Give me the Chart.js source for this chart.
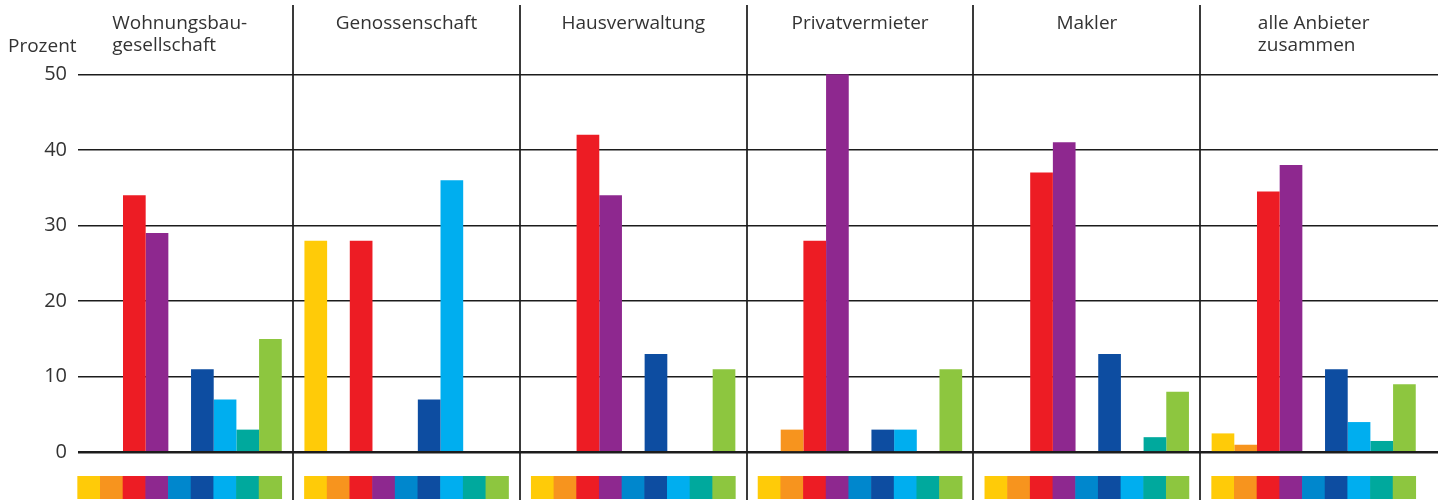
<!DOCTYPE html>
<html>
<head>
<meta charset="utf-8">
<script src="https://cdn.jsdelivr.net/npm/chart.js@4"></script>
<style>
  html, body { margin: 0; padding: 0; background: #ffffff; }
  #wrap { width: 1449px; height: 503px; position: relative; }
</style>
</head>
<body>
<div id="wrap"><canvas id="c"></canvas></div>
<script>
// ---------------- data ----------------
const categories = [
  ['Wohnungsbau-', 'gesellschaft'],
  ['Genossenschaft'],
  ['Hausverwaltung'],
  ['Privatvermieter'],
  ['Makler'],
  ['alle Anbieter', 'zusammen']
];
const yTitle = 'Prozent';
const yTicks = [0, 10, 20, 30, 40, 50];

const seriesNames  = ['Serie 1', 'Serie 2', 'Serie 3', 'Serie 4', 'Serie 5', 'Serie 6', 'Serie 7', 'Serie 8', 'Serie 9'];
const seriesColors = ['#FFCB08', '#F7941E', '#ED1C24', '#8E288F', '#0087CD', '#0D4DA1', '#00AEEF', '#00A99D', '#8DC63F'];

const series1 = [0, 28, 0, 0, 0, 2.5];    // gelb
const series2 = [0, 0, 0, 3, 0, 1];       // orange
const series3 = [34, 28, 42, 28, 37, 34.5]; // rot
const series4 = [29, 0, 34, 50, 41, 38];  // violett
const series5 = [0, 0, 0, 0, 0, 0];       // blau
const series6 = [11, 7, 13, 3, 13, 11];   // dunkelblau
const series7 = [7, 36, 0, 3, 0, 4];      // cyan
const series8 = [3, 0, 0, 0, 2, 1.5];     // petrol
const series9 = [15, 0, 11, 11, 8, 9];    // grün
const allSeries = [series1, series2, series3, series4, series5, series6, series7, series8, series9];

// ---------------- chart ----------------
const FONT = "'Open Sans', 'Noto Sans', sans-serif";
const TEXT = '#333333';

const datasets = allSeries.map((vals, s) => ({
  label: seriesNames[s],
  data: vals.map((v, i) => ({ x: i, y: v })),
  backgroundColor: seriesColors[s],
  borderWidth: 0,
  categoryPercentage: 0.9,
  barPercentage: 1.0
}));

// Labels, title and colour key under each group
const decorPlugin = {
  id: 'decor',
  afterDraw(chart) {
    const ctx = chart.ctx;
    const xs = chart.scales.x;
    const ys = chart.scales.y;
    ctx.save();
    // colour key under each group, taken from the bars' own positions
    const zero = ys.getPixelForValue(0);
    chart.data.datasets.forEach((ds, d) => {
      const meta = chart.getDatasetMeta(d);
      meta.data.forEach(el => {
        const p = el.getProps(['x', 'width'], true);
        ctx.fillStyle = ds.backgroundColor;
        ctx.fillRect(p.x - p.width / 2 - 0.3, zero + 23.7, p.width + 0.6, 23);
      });
    });
    // group titles
    ctx.fillStyle = TEXT;
    ctx.font = "19px " + FONT;
    ctx.textAlign = 'left';
    ctx.textBaseline = 'alphabetic';
    categories.forEach((lines, i) => {
      const cx = xs.getPixelForValue(i);
      const w = Math.max(...lines.map(l => ctx.measureText(l).width));
      lines.forEach((l, k) => ctx.fillText(l, cx - w / 2, 29 + k * 22));
    });
    // axis title
    ctx.fillText(yTitle, 8, 52);
    ctx.restore();
  }
};

new Chart(document.getElementById('c'), {
  type: 'bar',
  data: { datasets },
  options: {
    responsive: true,
    maintainAspectRatio: false,
    animation: false,
    events: [],
    layout: { autoPadding: false, padding: { top: 5, bottom: 3, left: 0, right: 11 } },
    plugins: { legend: { display: false }, tooltip: { enabled: false }, title: { display: false } },
    scales: {
      x: {
        type: 'linear',
        offset: false,
        min: -0.4484,
        max: 5.5481,
        z: 1,
        afterBuildTicks: (scale) => {
          scale.ticks = categories.slice(1).map((_, i) => ({ value: i + 0.5 }));
        },
        afterFit: (scale) => { scale.height = 0; scale.paddingLeft = 0; scale.paddingRight = 0; },
        ticks: { display: false },
        border: { display: false },
        grid: { offset: false, drawTicks: false, color: '#3a3a3a', lineWidth: 2 }
      },
      y: {
        min: -6.31,
        max: 59.17,
        z: 1,
        afterBuildTicks: (scale) => {
          scale.ticks = yTicks.map(v => ({ value: v }));
        },
        afterFit: (scale) => { scale.width = 78; scale.paddingTop = 0; scale.paddingBottom = 0; },
        border: { display: false },
        grid: {
          drawTicks: false,
          color: '#1c1c1c',
          lineWidth: (c) => (c.tick && c.tick.value === 0 ? 2.4 : 1.6)
        },
        ticks: {
          padding: 11,
          color: TEXT,
          font: { family: FONT, size: 20 },
          callback: (v) => String(v)
        }
      }
    }
  },
  plugins: [decorPlugin]
});
</script>
</body>
</html>
